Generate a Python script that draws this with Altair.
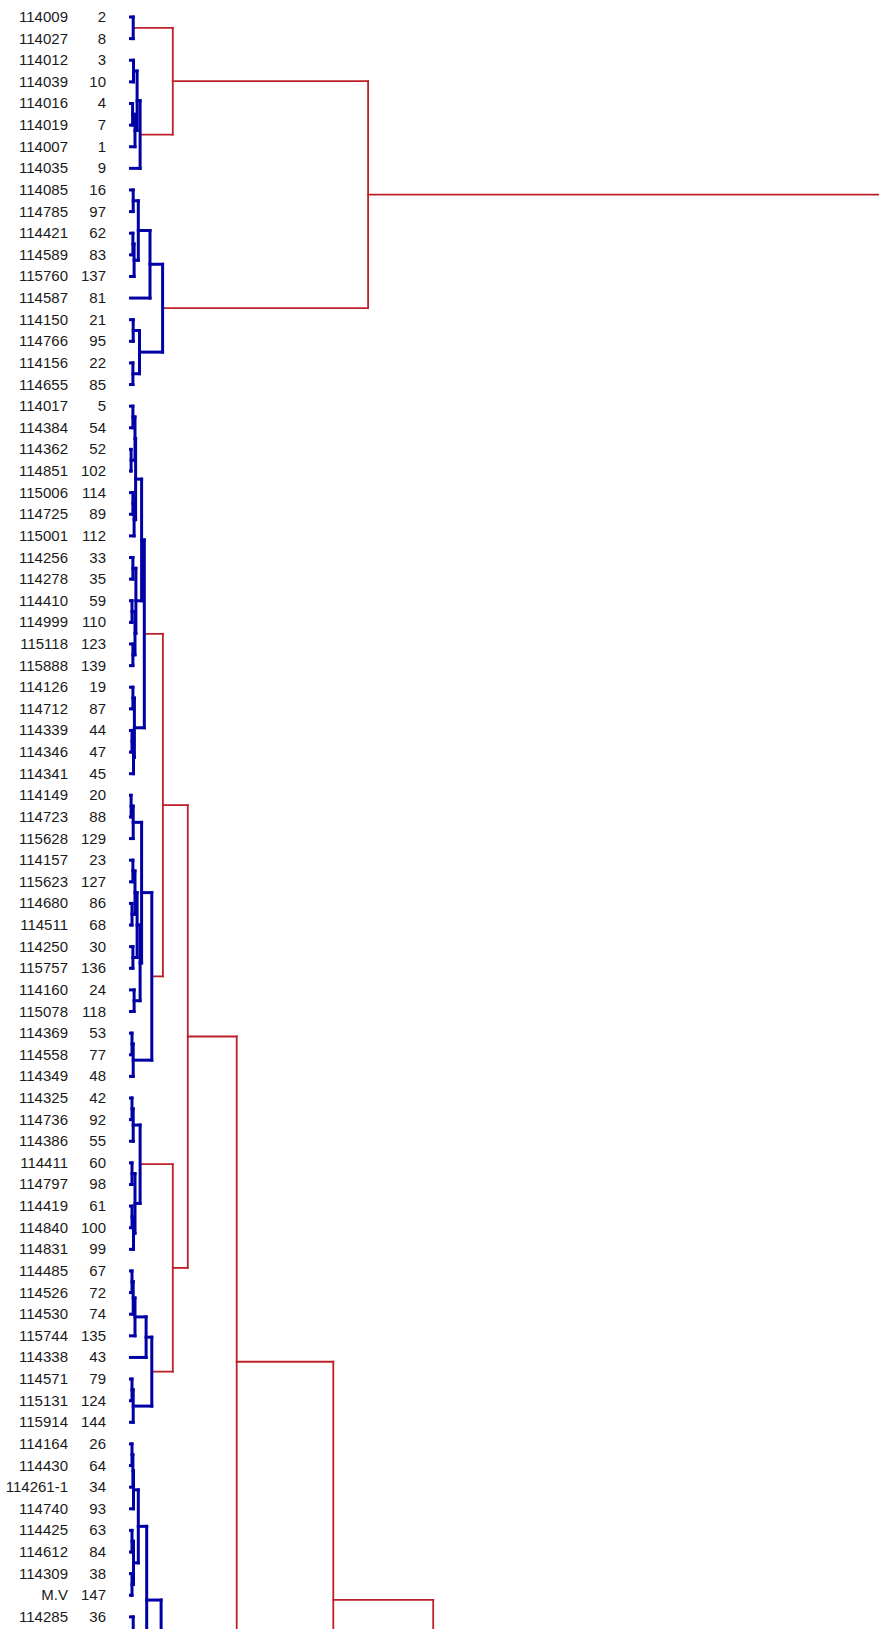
import altair as alt
import pandas as pd

# Sample identifiers and case numbers, in dendrogram order (top to bottom)
sample_ids = [
    "114009", "114027", "114012", "114039", "114016", "114019", "114007", "114035",
    "114085", "114785", "114421", "114589", "115760", "114587", "114150", "114766",
    "114156", "114655", "114017", "114384", "114362", "114851", "115006", "114725",
    "115001", "114256", "114278", "114410", "114999", "115118", "115888", "114126",
    "114712", "114339", "114346", "114341", "114149", "114723", "115628", "114157",
    "115623", "114680", "114511", "114250", "115757", "114160", "115078", "114369",
    "114558", "114349", "114325", "114736", "114386", "114411", "114797", "114419",
    "114840", "114831", "114485", "114526", "114530", "115744", "114338", "114571",
    "115131", "115914", "114164", "114430", "114261-1", "114740", "114425", "114612",
    "114309", "M.V", "114285",
]
case_nums = [
    2, 8, 3, 10, 4, 7, 1, 9,
    16, 97, 62, 83, 137, 81, 21, 95,
    22, 85, 5, 54, 52, 102, 114, 89,
    112, 33, 35, 59, 110, 123, 139, 19,
    87, 44, 47, 45, 20, 88, 129, 23,
    127, 86, 68, 30, 136, 24, 118, 53,
    77, 48, 42, 92, 55, 60, 98, 61,
    100, 99, 67, 72, 74, 135, 43, 79,
    124, 144, 26, 64, 34, 93, 63, 84,
    38, 147, 36,
]

# Branches that continue below the last listed case: name -> (row position, distance)
continued = {
    "s1": (79.26, 0.10),
    "s2": (81.26, 0.50),
    "s3": (84.23, 2.50),
    "s4": (100.0, 5.00),
}

# Agglomeration steps: (node, left child, right child, rescaled distance, kind)
# ints are cases (row index), strings are earlier nodes / continued branches
merges = [
    ("a", 0, 1, 0.14, "in"),
    ("b1", 2, 3, 0.15, "in"), ("b2", 4, 5, 0.12, "in"), ("b3", "b2", 6, 0.20, "in"),
    ("b4", "b1", "b3", 0.27, "in"), ("B", "b4", 7, 0.37, "in"),
    ("T1", "a", "B", 1.46, "out"),
    ("c1", 8, 9, 0.14, "in"), ("c2", 10, 11, 0.13, "in"), ("c3", "c2", 12, 0.17, "in"),
    ("c4", "c1", "c3", 0.31, "in"), ("c5", "c4", 13, 0.70, "in"),
    ("c6", 14, 15, 0.14, "in"), ("c7", 16, 17, 0.13, "in"), ("c8", "c6", "c7", 0.35, "in"),
    ("C", "c5", "c8", 1.12, "in"),
    ("T", "T1", "C", 7.97, "out"),
    ("d1", 18, 19, 0.13, "in"), ("d2", 20, 21, 0.07, "in"), ("d3", "d1", "d2", 0.20, "in"),
    ("d4", 22, 23, 0.13, "in"), ("d5", "d4", 24, 0.17, "in"), ("d6", "d3", "d5", 0.22, "in"),
    ("d7", 25, 26, 0.13, "in"), ("d8", 27, 28, 0.10, "in"), ("d9", 29, 30, 0.13, "in"),
    ("d10", "d8", "d9", 0.20, "in"), ("d11", "d7", "d10", 0.23, "in"),
    ("d12", "d6", "d11", 0.42, "in"),
    ("d13", 31, 32, 0.13, "in"), ("d14", 33, 34, 0.10, "in"), ("d15", "d14", 35, 0.15, "in"),
    ("d16", "d13", "d15", 0.18, "in"),
    ("D", "d12", "d16", 0.51, "in"),
    ("e1", 36, 37, 0.07, "in"), ("e2", "e1", 38, 0.14, "in"),
    ("e3", 39, 40, 0.13, "in"), ("e4", 41, 42, 0.10, "in"), ("e5", "e3", "e4", 0.20, "in"),
    ("e6", 43, 44, 0.13, "in"), ("e7", "e5", "e6", 0.27, "in"),
    ("e8", 45, 46, 0.17, "in"), ("e9", "e7", "e8", 0.37, "in"),
    ("e10", "e2", "e9", 0.42, "in"),
    ("e11", 47, 48, 0.10, "in"), ("e12", "e11", 49, 0.14, "in"),
    ("E", "e10", "e12", 0.76, "in"),
    ("DE", "D", "E", 1.13, "out"),
    ("f1", 50, 51, 0.10, "in"), ("f2", "f1", 52, 0.14, "in"),
    ("f3", 53, 54, 0.10, "in"), ("f4", 55, 56, 0.10, "in"), ("f5", "f4", 57, 0.15, "in"),
    ("f6", "f3", "f5", 0.20, "in"),
    ("F", "f2", "f6", 0.37, "in"),
    ("g1", 58, 59, 0.10, "in"), ("g2", "g1", 60, 0.14, "in"), ("g3", "g2", 61, 0.20, "in"),
    ("g4", "g3", 62, 0.57, "in"),
    ("g5", 63, 64, 0.10, "in"), ("g6", "g5", 65, 0.14, "in"),
    ("G", "g4", "g6", 0.76, "in"),
    ("FG", "F", "G", 1.46, "out"),
    ("DEFG", "DE", "FG", 1.96, "out"),
    ("h1", 66, 67, 0.10, "in"), ("h2", "h1", 68, 0.13, "in"), ("h3", "h2", 69, 0.15, "in"),
    ("h4", 70, 71, 0.10, "in"), ("h5", 72, 73, 0.10, "in"), ("h6", "h4", "h5", 0.15, "in"),
    ("h7", "h3", "h6", 0.31, "in"),
    ("hx", 74, "s1", 0.14, "in"),
    ("h8", "h7", "hx", 0.59, "in"),
    ("H", "h8", "s2", 1.07, "in"),
    ("N1", "DEFG", "H", 3.59, "out"),
    ("N2", "N1", "s3", 6.81, "out"),
    ("N3", "N2", "s4", 10.14, "out"),
    ("R", "T", "N3", 25.5, "out"),
]

# Node positions: (row, distance)
pos = {i: (float(i), 0.0) for i in range(len(sample_ids))}
pos.update(continued)

segments = []
for node, left, right, dist, kind in merges:
    (ya, ha), (yb, hb) = pos[left], pos[right]
    segments.append({"x": ha, "x2": dist, "y": ya, "y2": ya, "kind": kind})
    segments.append({"x": hb, "x2": dist, "y": yb, "y2": yb, "kind": kind})
    segments.append({"x": dist, "x2": dist, "y": ya, "y2": yb, "kind": kind})
    pos[node] = ((ya + yb) / 2.0, dist)

seg_df = pd.DataFrame(segments)
label_df = pd.DataFrame({
    "row": list(range(len(sample_ids))),
    "sample": sample_ids,
    "num": [str(n) for n in case_nums],
})

row_step = 21.62
first_row = 17.0
plot_h = 1629
y_lo = -first_row / row_step
y_hi = y_lo + plot_h / row_step

xs = alt.Scale(domain=[0, 25], nice=False, zero=False)
ys = alt.Scale(domain=[y_lo, y_hi], reverse=True, nice=False, zero=False)

base = alt.Chart(seg_df)

within = base.transform_filter(alt.datum.kind == "in").mark_rule(
    clip=True, color="#0000A6", strokeWidth=3, strokeCap="square"
).encode(
    x=alt.X("x:Q", scale=xs, axis=None),
    x2="x2:Q",
    y=alt.Y("y:Q", scale=ys, axis=None),
    y2="y2:Q",
)

between = base.transform_filter(alt.datum.kind == "out").mark_rule(
    clip=True, color="#BC2129", strokeWidth=1.8, strokeCap="square"
).encode(
    x=alt.X("x:Q", scale=xs, axis=None),
    x2="x2:Q",
    y=alt.Y("y:Q", scale=ys, axis=None),
    y2="y2:Q",
)

font = "Liberation Sans Narrow, Arial Narrow, Liberation Sans, Arial"

id_text = alt.Chart(label_df).mark_text(
    align="right", baseline="middle", font=font, fontSize=15, color="#1a1a1a"
).encode(
    x=alt.value(-61),
    y=alt.Y("row:Q", scale=ys, axis=None),
    text="sample:N",
)

num_text = alt.Chart(label_df).mark_text(
    align="right", baseline="middle", font=font, fontSize=15, color="#1a1a1a"
).encode(
    x=alt.value(-23),
    y=alt.Y("row:Q", scale=ys, axis=None),
    text="num:N",
)

chart = alt.layer(between, within, id_text, num_text).properties(
    width=750,
    height=plot_h,
    autosize=alt.AutoSizeParams(type="none"),
    padding={"left": 129, "right": 0, "top": 0, "bottom": 0},
    background="white",
).configure_view(stroke=None)

chart.save("out.html", embed_options={"renderer": "svg", "actions": False})
